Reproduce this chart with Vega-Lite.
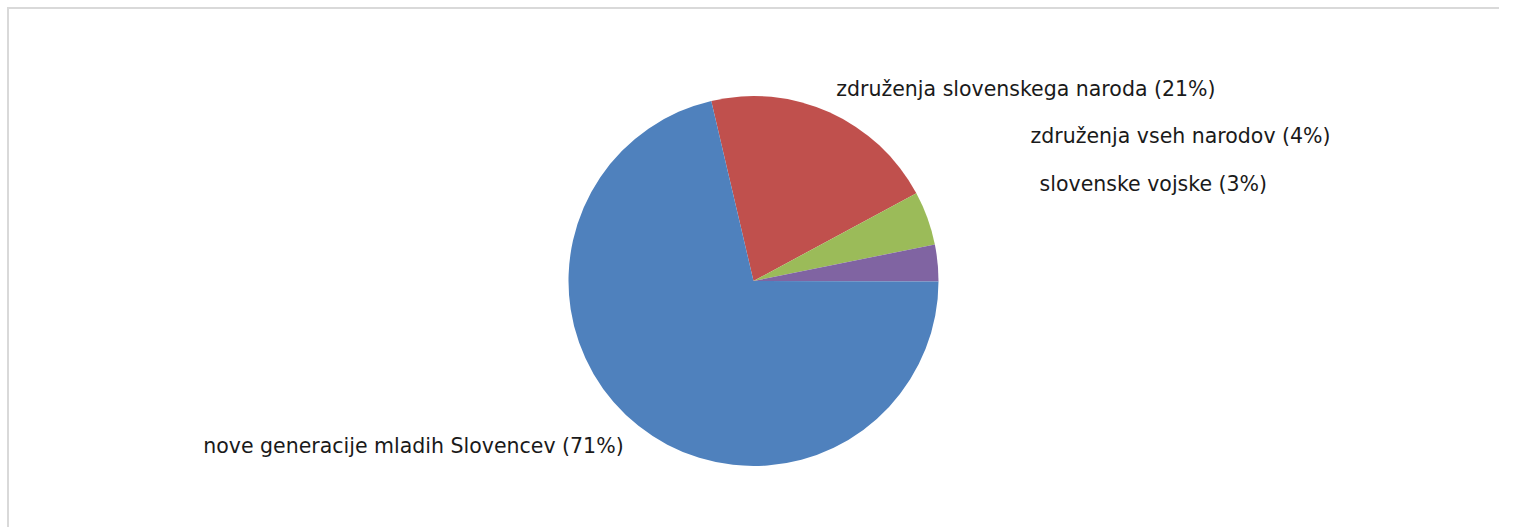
{
  "$schema": "https://vega.github.io/schema/vega-lite/v6.json",
  "width": 1491,
  "height": 546,
  "autosize": {"type": "none"},
  "padding": {"left": 8, "top": 8, "right": 0, "bottom": 0},
  "background": "white",
  "view": {"stroke": "#d9d9d9", "strokeWidth": 2, "fill": "white", "strokeDash": [1492, 545, 2100, 1]},
  "config": {
    "text": {"font": "DejaVu Sans", "fontSize": 20.5, "fill": "#1a1a1a"}
  },
  "data": {
    "values": [
      {"category": "združenja slovenskega naroda", "share": 20.8, "label": "združenja slovenskega naroda (21%)", "rank": 1},
      {"category": "združenja vseh narodov", "share": 4.7, "label": "združenja vseh narodov (4%)", "rank": 2},
      {"category": "slovenske vojske", "share": 3.2, "label": "slovenske vojske (3%)", "rank": 3},
      {"category": "nove generacije mladih Slovencev", "share": 71.3, "label": "nove generacije mladih Slovencev (71%)", "rank": 4}
    ]
  },
  "encoding": {
    "theta": {"field": "share", "type": "quantitative", "stack": true, "scale": {"range": [-0.2304, 6.0528]}},
    "order": {"field": "rank", "type": "ordinal"}
  },
  "layer": [
    {
      "mark": {"type": "arc", "outerRadius": 185},
      "encoding": {
        "color": {
          "field": "category",
          "type": "nominal",
          "legend": null,
          "scale": {
            "domain": ["združenja slovenskega naroda", "združenja vseh narodov", "slovenske vojske", "nove generacije mladih Slovencev"],
            "range": ["#c0504d", "#9bbb59", "#8064a2", "#4f81bd"]
          }
        }
      }
    },
    {
      "mark": {"type": "text", "radius": 209, "align": "left", "baseline": "middle", "dx": -3},
      "encoding": {"text": {"condition": {"test": "datum.category === 'združenja slovenskega naroda'", "field": "label"}, "value": ""}}
    },
    {
      "mark": {"type": "text", "radius": 185, "align": "left", "baseline": "middle", "dx": 103, "dy": -81},
      "encoding": {"text": {"condition": {"test": "datum.category === 'združenja vseh narodov'", "field": "label"}, "value": ""}}
    },
    {
      "mark": {"type": "text", "radius": 185, "align": "left", "baseline": "middle", "dx": 102, "dy": -78},
      "encoding": {"text": {"condition": {"test": "datum.category === 'slovenske vojske'", "field": "label"}, "value": ""}}
    },
    {
      "mark": {"type": "text", "radius": 212, "align": "right", "baseline": "middle", "dx": 2},
      "encoding": {"text": {"condition": {"test": "datum.category === 'nove generacije mladih Slovencev'", "field": "label"}, "value": ""}}
    }
  ]
}
